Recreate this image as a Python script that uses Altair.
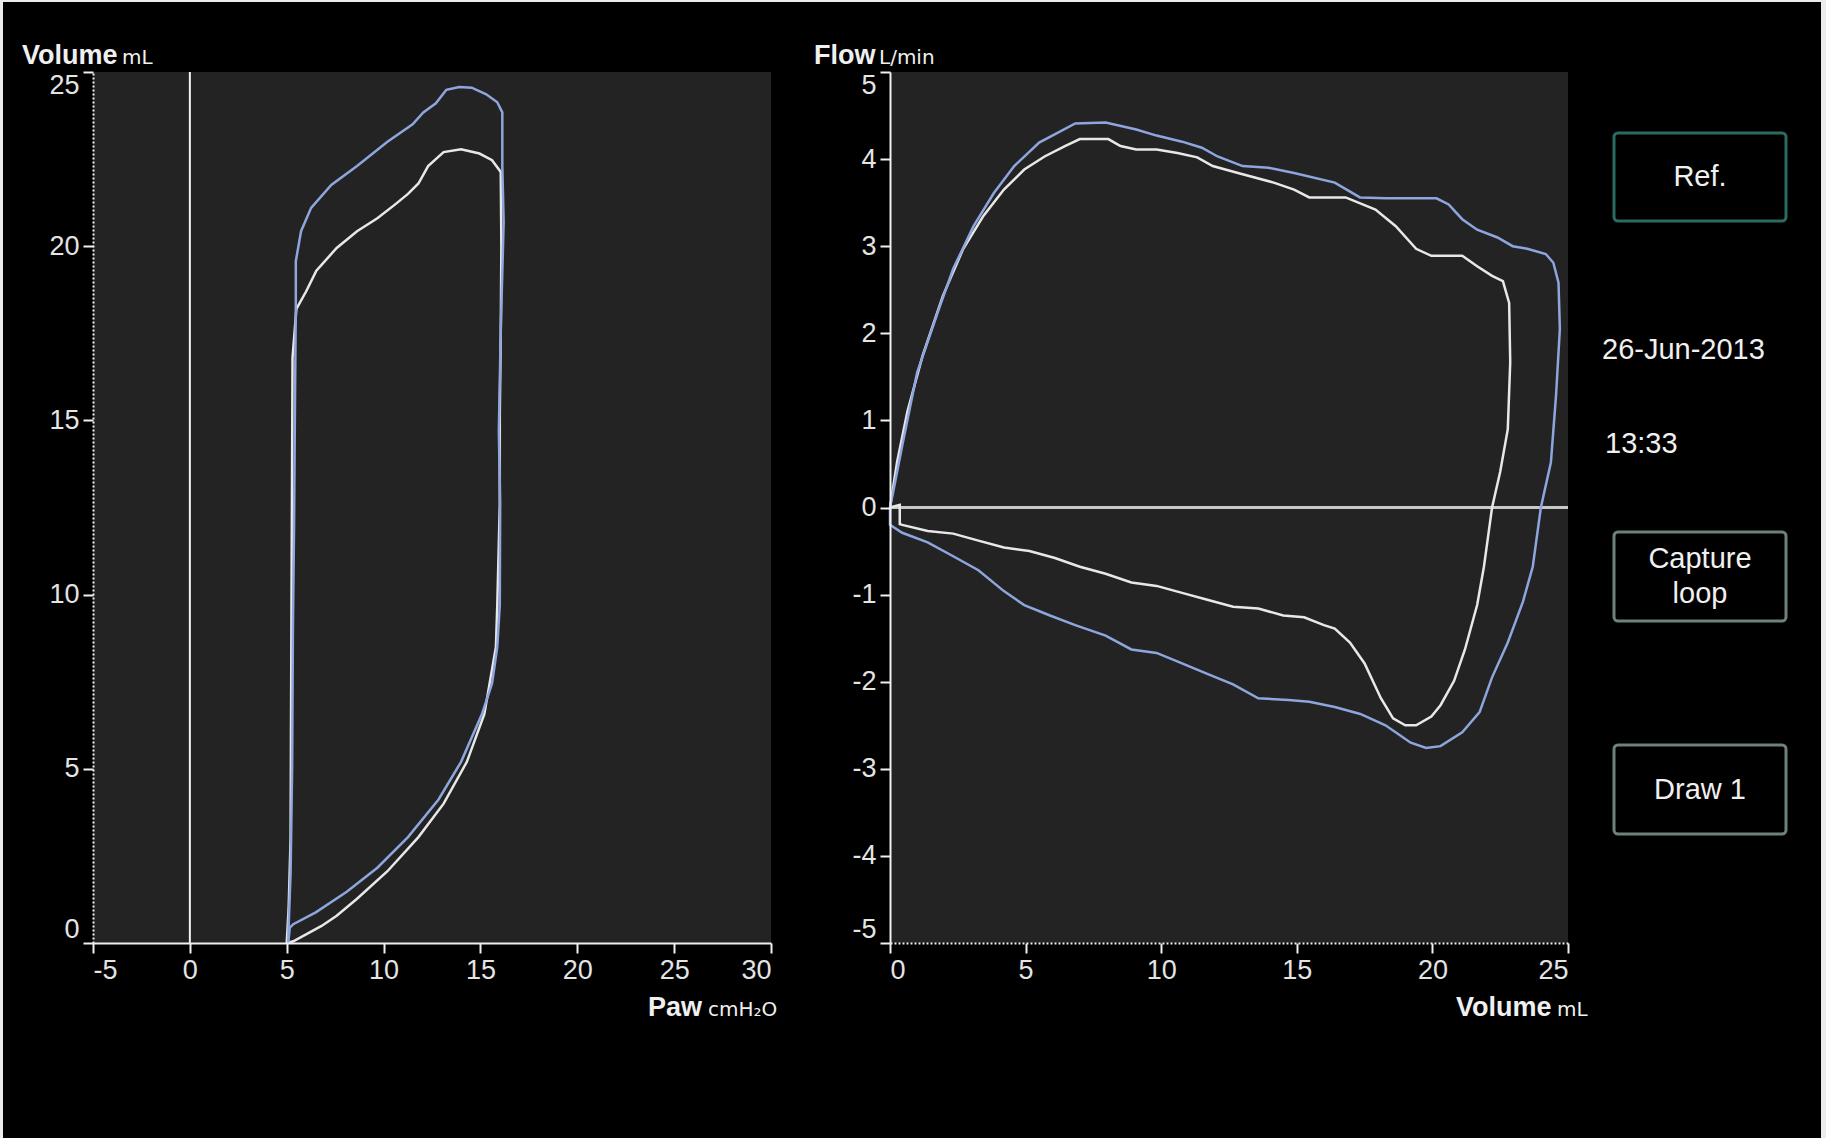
import altair as alt
import pandas as pd

# ---------------- data ----------------
# Pressure-volume loop (Paw cmH2O, Volume mL)
pv_cur_paw = [5.0, 5.34, 6.0, 6.8, 7.58, 8.63, 10.2, 11.8, 13.1, 14.3, 15.2, 15.8, 15.87, 16.0, 16.0, 16.05, 16.08, 16.05,
              15.6, 14.95, 14.0, 13.1, 12.3, 11.8, 11.26, 10.6, 9.68, 8.63, 7.58, 6.53, 6.0, 5.5, 5.4, 5.3, 5.28, 5.25, 5.22, 5.2, 5.1, 5.0]
pv_cur_vol = [0.0, 0.05, 0.25, 0.49, 0.78, 1.27, 2.06, 3.04, 4.0, 5.2, 6.57, 8.5, 9.7, 12.6, 15.2, 17.5, 20.0, 22.13,
              22.47, 22.66, 22.78, 22.7, 22.3, 21.8, 21.5, 21.2, 20.8, 20.43, 19.95, 19.3, 18.7, 18.2, 17.5, 16.8, 14.0, 10.0, 6.0, 3.0, 1.0, 0.0]

pv_ref_paw = [5.08, 5.16, 5.34, 6.5, 8.1, 9.68, 11.26, 12.84, 14.0, 15.08, 15.6, 15.87, 16.0, 16.02, 15.95, 16.05, 16.2, 16.13, 16.13,
              15.87, 15.3, 14.55, 13.9, 13.24, 12.7, 12.05, 11.5, 10.2, 8.63, 7.3, 6.26, 5.74, 5.47, 5.47, 5.42, 5.38, 5.32, 5.28, 5.2, 5.1, 5.08]
pv_ref_vol = [0.0, 0.44, 0.54, 0.88, 1.47, 2.16, 3.04, 4.12, 5.2, 6.57, 7.45, 8.5, 9.7, 12.6, 14.7, 17.6, 20.7, 22.3, 23.84,
              24.13, 24.36, 24.55, 24.57, 24.49, 24.1, 23.84, 23.5, 23.0, 22.3, 21.76, 21.1, 20.43, 19.57, 18.34, 15.0, 12.0, 9.0, 5.0, 2.0, 0.5, 0.0]

# Flow-volume loop (Volume mL, Flow L/min)
fv_cur_vol = [0.0, 0.26, 0.64, 1.2, 1.95, 2.7, 3.45, 4.2, 4.95, 5.7, 6.45, 7.0, 8.05, 8.5, 9.08, 9.83, 10.6, 11.33, 11.9, 12.83,
              14.15, 14.9, 15.46, 16.8, 17.9, 18.65, 19.4, 19.96, 21.1, 21.65, 22.2, 22.6, 22.83, 22.87, 22.78, 22.5, 22.2,
              21.9, 21.65, 21.2, 20.8, 20.3, 19.96, 19.4, 19.0, 18.55, 18.1, 17.5, 16.96, 16.4, 16.0, 15.27, 14.5, 13.58,
              12.65, 11.7, 10.77, 9.83, 8.9, 7.95, 7.0, 6.08, 5.14, 4.2, 3.26, 2.33, 1.39, 0.45, 0.36, 0.36, 0.0]
fv_cur_flow = [0.0, 0.52, 1.1, 1.74, 2.43, 2.97, 3.35, 3.65, 3.88, 4.03, 4.15, 4.23, 4.23, 4.15, 4.11, 4.11, 4.07, 4.02, 3.92, 3.84,
               3.73, 3.65, 3.56, 3.56, 3.42, 3.23, 2.97, 2.89, 2.89, 2.77, 2.66, 2.6, 2.35, 1.67, 0.9, 0.41, 0.0,
               -0.68, -1.12, -1.63, -1.99, -2.27, -2.4, -2.5, -2.5, -2.42, -2.19, -1.79, -1.55, -1.39, -1.35, -1.26, -1.24, -1.16,
               -1.14, -1.06, -0.98, -0.9, -0.86, -0.76, -0.68, -0.58, -0.5, -0.46, -0.38, -0.3, -0.27, -0.2, -0.19, 0.03, 0.0]

fv_ref_vol = [0.0, 0.17, 0.45, 1.0, 1.76, 2.33, 3.08, 3.83, 4.58, 5.5, 6.83, 7.95, 9.08, 9.83, 10.77, 11.5, 12.08, 13.0, 13.96,
              14.9, 16.4, 17.33, 18.3, 20.15, 20.6, 21.1, 21.65, 22.4, 22.96, 23.5, 24.18, 24.46, 24.65, 24.7, 24.56, 24.37, 24.0,
              23.7, 23.34, 22.78, 22.2, 21.74, 21.1, 20.3, 19.77, 19.2, 18.27, 17.34, 16.4, 15.46, 14.7, 13.58, 12.65, 11.7,
              10.77, 9.83, 8.9, 7.95, 6.83, 5.9, 4.95, 4.2, 3.26, 2.33, 1.39, 0.45, 0.0, 0.0]
fv_ref_flow = [0.0, 0.26, 0.71, 1.55, 2.24, 2.74, 3.23, 3.61, 3.92, 4.19, 4.41, 4.42, 4.34, 4.27, 4.2, 4.13, 4.03, 3.92, 3.9,
               3.84, 3.73, 3.56, 3.55, 3.55, 3.48, 3.31, 3.19, 3.1, 3.0, 2.97, 2.91, 2.81, 2.58, 2.05, 1.29, 0.52, 0.0,
               -0.68, -1.08, -1.55, -1.95, -2.35, -2.58, -2.74, -2.76, -2.7, -2.5, -2.37, -2.29, -2.23, -2.21, -2.19, -2.03, -1.91,
               -1.79, -1.67, -1.63, -1.47, -1.35, -1.24, -1.12, -0.96, -0.72, -0.56, -0.4, -0.29, -0.2, 0.0]

paw_ticks = [-5, 0, 5, 10, 15, 20, 25, 30]
vol_ticks = [0, 5, 10, 15, 20, 25]
flow_ticks = [-5, -4, -3, -2, -1, 0, 1, 2, 3, 4, 5]

# ---------------- styling ----------------
W, H = 678, 871
CUR = "#e8e8e8"
REF = "#8ea6de"
PLOT_BG = "#232323"
TICK_FONT = "Liberation Sans, Arial, sans-serif"
TITLE_FONT = "Liberation Sans, Arial, sans-serif"
UNIT_FONT = "DejaVu Sans, sans-serif"
BTN_SIZE = 29
# integer labels with a plain hyphen for negatives
LABEL_EXPR = "datum.value < 0 ? '-' + abs(datum.value) : '' + datum.value"


def axis(values, dotted=False):
    kw = dict(values=values, zindex=1, labelExpr=LABEL_EXPR)
    if dotted:
        kw["domainDash"] = [2, 2]
    return alt.Axis(**kw)


def loop(xs, ys):
    return pd.DataFrame({"x": xs, "y": ys, "i": list(range(len(xs)))})


one = pd.DataFrame({"k": [0]})


def text(s, x, y, size, font=TITLE_FONT, weight="normal", align="left", baseline="alphabetic", color="#f0f0f0"):
    return alt.Chart(one).mark_text(
        text=s, font=font, fontSize=size, fontWeight=weight, align=align, baseline=baseline, color=color
    ).encode(x=alt.value(x), y=alt.value(y))


def box(x1, x2, y1, y2, stroke):
    return alt.Chart(one).mark_rect(
        fill="black", stroke=stroke, strokeWidth=3, cornerRadius=4
    ).encode(x=alt.value(x1), x2=alt.value(x2), y=alt.value(y1), y2=alt.value(y2))


def strip(x1, x2, y1, y2, color="#ececec"):
    return alt.Chart(one).mark_rect(fill=color).encode(
        x=alt.value(x1), x2=alt.value(x2), y=alt.value(y1), y2=alt.value(y2)
    )


# ---------------- left panel: P-V loop ----------------
paw_scale = alt.Scale(domain=[-5, 30], nice=False, zero=False)
vol_scale_l = alt.Scale(domain=[0, 25], nice=False, zero=False)

# whole-canvas backdrop (offsets relative to the left plot origin) with its thin light edges
frame = strip(-93, 1733, -72, 1066, color="black")
edge_top = strip(-93, 1733, -72, -70)
edge_left = strip(-93, -90, -72, 1066)
edge_right = strip(1728, 1733, -72, 1066)

left_bg = alt.Chart(one).mark_rect(fill=PLOT_BG).encode(
    x=alt.value(0), x2=alt.value(W), y=alt.value(0), y2=alt.value(H)
)
paw_zero = alt.Chart(pd.DataFrame({"p": [0]})).mark_rule(color="#f2f2f2", strokeWidth=2).encode(
    x=alt.X("p:Q", scale=paw_scale)
)


def pv_line(xs, ys, color):
    return alt.Chart(loop(xs, ys)).mark_line(color=color, strokeWidth=2.5).encode(
        x=alt.X("x:Q", scale=paw_scale, title=None, axis=axis(paw_ticks)),
        y=alt.Y("y:Q", scale=vol_scale_l, title=None, axis=axis(vol_ticks, dotted=True)),
        order="i:Q",
    )


left = alt.layer(
    frame,
    edge_top,
    edge_left,
    edge_right,
    left_bg,
    paw_zero,
    pv_line(pv_cur_paw, pv_cur_vol, CUR),
    pv_line(pv_ref_paw, pv_ref_vol, REF),
    text("Volume", -71, -8, 27, weight="bold"),
    text("mL", 29, -8, 20, font=UNIT_FONT),
    text("Paw", 555, 944, 27, weight="bold"),
    text("cmH₂O", 615, 944, 20, font=UNIT_FONT),
).properties(width=W, height=H)

# ---------------- right panel: flow-volume loop ----------------
vol_scale_r = alt.Scale(domain=[0, 25], nice=False, zero=False)
flow_scale = alt.Scale(domain=[-5, 5], nice=False, zero=False)

flow_zero = alt.Chart(pd.DataFrame({"f": [0]})).mark_rule(color="#c8c8c8", strokeWidth=3).encode(
    y=alt.Y("f:Q", scale=flow_scale)
)


def fv_line(xs, ys, color):
    return alt.Chart(loop(xs, ys)).mark_line(color=color, strokeWidth=2.5).encode(
        x=alt.X("x:Q", scale=vol_scale_r, title=None, axis=axis(vol_ticks, dotted=True)),
        y=alt.Y("y:Q", scale=flow_scale, title=None, axis=axis(flow_ticks)),
        order="i:Q",
    )


BTN_REF = "#2a6b63"
BTN = "#6f8279"
right = alt.layer(
    flow_zero,
    fv_line(fv_cur_vol, fv_cur_flow, CUR),
    fv_line(fv_ref_vol, fv_ref_flow, REF),
    text("Flow", -76, -8, 27, weight="bold"),
    text("L/min", -11, -8, 20, font=UNIT_FONT),
    text("Volume", 566, 944, 27, weight="bold"),
    text("mL", 667, 944, 20, font=UNIT_FONT),
    box(724, 896, 61, 149, BTN_REF),
    text("Ref.", 810, 105, BTN_SIZE, align="center", baseline="middle"),
    text("26-Jun-2013", 712, 278, BTN_SIZE, baseline="middle"),
    text("13:33", 715, 372, BTN_SIZE, baseline="middle"),
    box(724, 896, 460, 549, BTN),
    text("Capture", 810, 487, BTN_SIZE, align="center", baseline="middle"),
    text("loop", 810, 522, BTN_SIZE, align="center", baseline="middle"),
    box(724, 896, 673, 762, BTN),
    text("Draw 1", 810, 718, BTN_SIZE, align="center", baseline="middle"),
).properties(width=W, height=H)

chart = alt.hconcat(left, right, spacing=119, bounds="flush").configure(
    background="black", padding=0
).configure_view(
    fill=PLOT_BG, stroke=None
).configure_axis(
    grid=False,
    labelFont=TICK_FONT,
    labelFontSize=27,
    labelColor="#e4e4e4",
    labelFlush=True,
    labelOverlap=False,
    labelPadding=4,
    tickSize=10,
    tickWidth=2,
    tickColor="#f0f0f0",
    domainColor="#f0f0f0",
    domainWidth=2,
)

chart.save("out.html", embed_options={"renderer": "svg", "actions": False})
